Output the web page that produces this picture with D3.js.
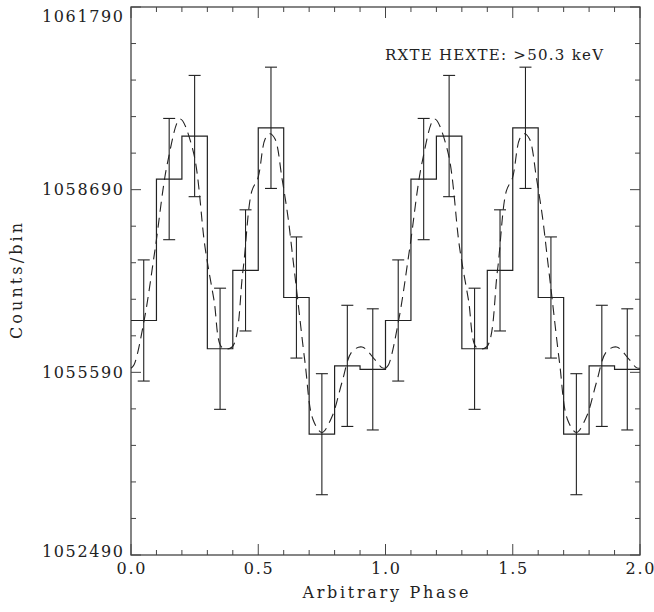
<!DOCTYPE html>
<html><head><meta charset="utf-8">
<script src="https://cdn.jsdelivr.net/npm/d3@7"></script>
<style>body{margin:0;background:#fff}svg{display:block}</style>
</head><body><svg id="c" width="654" height="612"></svg>
<script>
// ---- data ----
const binStart = [0.0,0.1,0.2,0.3,0.4,0.5,0.6,0.7,0.8,0.9,1.0,1.1,1.2,1.3,1.4,1.5,1.6,1.7,1.8,1.9];
const counts   = [1056470,1058870,1059600,1055990,1057320,1059740,1056860,1054540,1055700,1055640,
                  1056470,1058870,1059600,1055990,1057320,1059740,1056860,1054540,1055700,1055640];
const errors   = [1028,1029,1029,1028,1028,1029,1028,1027,1028,1028,
                  1028,1029,1029,1028,1028,1029,1028,1027,1028,1028];
const modelPhase  = [0.0,0.012,0.052,0.094,0.145,0.193,0.244,0.291,0.326,0.358,0.397,0.44,0.475,0.499,0.527,0.546,0.566,0.593,0.617,0.637,0.652,0.684,0.715,0.75,0.79,0.829,0.868,0.908,0.959,0.986,1.0];
const modelCounts = [1055660,1055720,1056480,1057660,1059180,1059890,1059350,1057710,1056820,1056010,1056020,1057320,1058670,1058890,1059550,1059640,1059550,1058890,1058220,1057490,1056940,1055750,1054790,1054570,1054840,1055420,1055940,1056020,1055800,1055670,1055660];
const cycles = [0, 1];
const yTicks = [1052490,1055590,1058690,1061790];
const xTicks = [0.0,0.5,1.0,1.5,2.0];
const xLabel = "Arbitrary Phase";
const yLabel = "Counts/bin";
const note = "RXTE HEXTE: >50.3 keV";

// ---- layout ----
const W = 654, H = 612;
const m = {l:131, r:14, t:7, b:57};
const iw = W - m.l - m.r, ih = H - m.t - m.b;
const svg = d3.select("#c");
const g = svg.append("g").attr("transform",`translate(${m.l},${m.t})`);
const x = d3.scaleLinear().domain([0,2]).range([0,iw]);
const y = d3.scaleLinear().domain([1052490,1061790]).range([ih,0]);
const ink = "#222", axisInk = "#444";
const font = "DejaVu Serif";

// frame
g.append("rect").attr("width",iw).attr("height",ih).attr("fill","none").attr("stroke",axisInk).attr("stroke-width",1.3);

// ticks
const xMinor = d3.range(0,21).map(i=>i/10);
const yMinor = d3.range(0,16).map(i=>1052490+i*620);
function isMajorX(v){return Math.abs(v*2-Math.round(v*2))<1e-6;}
function isMajorY(v){return (v-1052490)%3100===0;}
const tg = g.append("g").attr("stroke",axisInk).attr("stroke-width",1);
xMinor.forEach(v=>{
  const L = isMajorX(v)?11:5;
  tg.append("line").attr("x1",x(v)).attr("x2",x(v)).attr("y1",ih).attr("y2",ih-L);
  tg.append("line").attr("x1",x(v)).attr("x2",x(v)).attr("y1",0).attr("y2",L);
});
yMinor.forEach(v=>{
  const L = isMajorY(v)?10:5;
  tg.append("line").attr("y1",y(v)).attr("y2",y(v)).attr("x1",0).attr("x2",L);
  tg.append("line").attr("y1",y(v)).attr("y2",y(v)).attr("x1",iw).attr("x2",iw-L);
});

// tick labels (absolute coordinates)
const txt = svg.append("g").attr("font-family",font).attr("font-size",16).attr("fill",ink);
yTicks.forEach((v,i)=>{
  let cy = m.t + y(v);
  if (i === yTicks.length-1) cy = 16;      // top label sits just below the frame corner
  if (i === 0) cy = m.t + y(v) - 4;        // bottom label sits slightly above the axis
  txt.append("text").attr("x",123).attr("y",cy).attr("dy","0.36em").attr("text-anchor","end")
    .attr("textLength",81).attr("lengthAdjust","spacing").text(String(v));
});
xTicks.forEach(v=>{
  txt.append("text").attr("x",m.l + x(v)).attr("y",574).attr("text-anchor","middle")
    .attr("textLength",29).attr("lengthAdjust","spacing").text(v.toFixed(1));
});
txt.append("text").attr("x",m.l + iw/2).attr("y",598).attr("text-anchor","middle")
  .attr("textLength",166).attr("lengthAdjust","spacing").text(xLabel);
txt.append("text").attr("transform",`translate(22,${m.t + ih/2}) rotate(-90)`).attr("text-anchor","middle")
  .attr("textLength",116).attr("lengthAdjust","spacing").text(yLabel);
txt.append("text").attr("x",385).attr("y",60).attr("text-anchor","start").attr("font-size",15)
  .attr("textLength",218).attr("lengthAdjust","spacing").text(note);

// histogram
const histPts = binStart.map((b,i)=>[b,counts[i]]);
histPts.push([2.0, counts[counts.length-1]]);
g.append("path").datum(histPts)
  .attr("d", d3.line().x(d=>x(d[0])).y(d=>y(d[1])).curve(d3.curveStepAfter))
  .attr("fill","none").attr("stroke",ink).attr("stroke-width",1.2);

// error bars
const eg = g.append("g").attr("stroke",ink).attr("stroke-width",1.1);
binStart.forEach((b,i)=>{
  const cx = x(b+0.05), yt = y(counts[i]+errors[i]), yb = y(counts[i]-errors[i]);
  eg.append("line").attr("x1",cx).attr("x2",cx).attr("y1",yt).attr("y2",yb);
  eg.append("line").attr("x1",cx-6).attr("x2",cx+6).attr("y1",yt).attr("y2",yt);
  eg.append("line").attr("x1",cx-6).attr("x2",cx+6).attr("y1",yb).attr("y2",yb);
});

// model (dashed)
const mline = d3.line().x(d=>x(d[0])).y(d=>y(d[1])).curve(d3.curveCatmullRom);
cycles.forEach(c=>{
  g.append("path").datum(modelPhase.map((p,i)=>[p+c, modelCounts[i]]))
    .attr("d", mline).attr("fill","none").attr("stroke",ink).attr("stroke-width",1.1)
    .attr("stroke-dasharray","10,6");
});
</script></body></html>
